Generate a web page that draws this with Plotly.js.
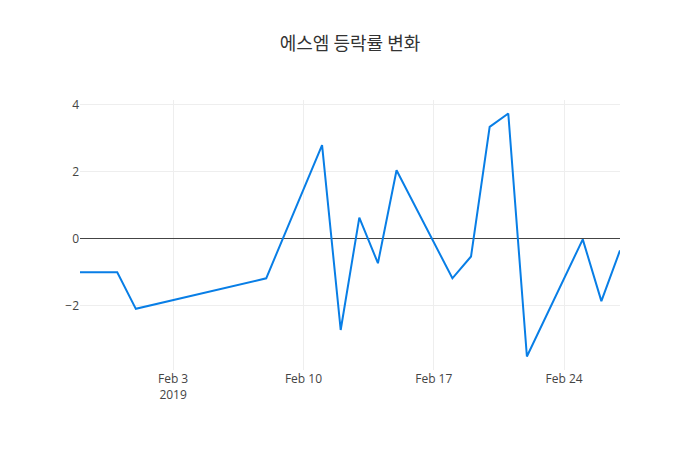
<!DOCTYPE html>
<html>
<head>
<meta charset="utf-8">
<script src="https://cdn.plot.ly/plotly-3.0.1.min.js"></script>
<style>html,body{margin:0;padding:0;background:#fff;}</style>
</head>
<body>
<div id="chart" style="width:700px;height:450px;"></div>
<script>
const dates = ["2019-01-29","2019-01-30","2019-01-31","2019-02-01","2019-02-08","2019-02-11","2019-02-12","2019-02-13","2019-02-14","2019-02-15","2019-02-18","2019-02-19","2019-02-20","2019-02-21","2019-02-22","2019-02-25","2019-02-26","2019-02-27"];
const changeRates = [-1.00,-1.00,-1.00,-2.09,-1.18,2.79,-2.72,0.63,-0.73,2.04,-1.18,-0.53,3.33,3.73,-3.51,-0.02,-1.86,-0.35];
const chartTitle = "에스엠 등락률 변화";

const trace = {
  x: dates,
  y: changeRates,
  type: "scatter",
  mode: "lines",
  line: {color: "rgb(8,126,230)", width: 2}
};
const layout = {
  width: 700,
  height: 450,
  title: {text: chartTitle, font: {family: "'Noto Sans CJK KR', 'Open Sans', sans-serif", size: 18, color: "#333"}},
  font: {family: "'Open Sans', 'Noto Sans CJK KR', sans-serif", size: 12, color: "#444"},
  xaxis: {type: "date", gridcolor: "#eee", showline: false, zeroline: false},
  yaxis: {gridcolor: "#eee", zeroline: true, zerolinecolor: "#444", zerolinewidth: 1},
  showlegend: false,
  paper_bgcolor: "#fff",
  plot_bgcolor: "#fff"
};
Plotly.newPlot("chart", [trace], layout, {displayModeBar: false});
</script>
</body>
</html>
